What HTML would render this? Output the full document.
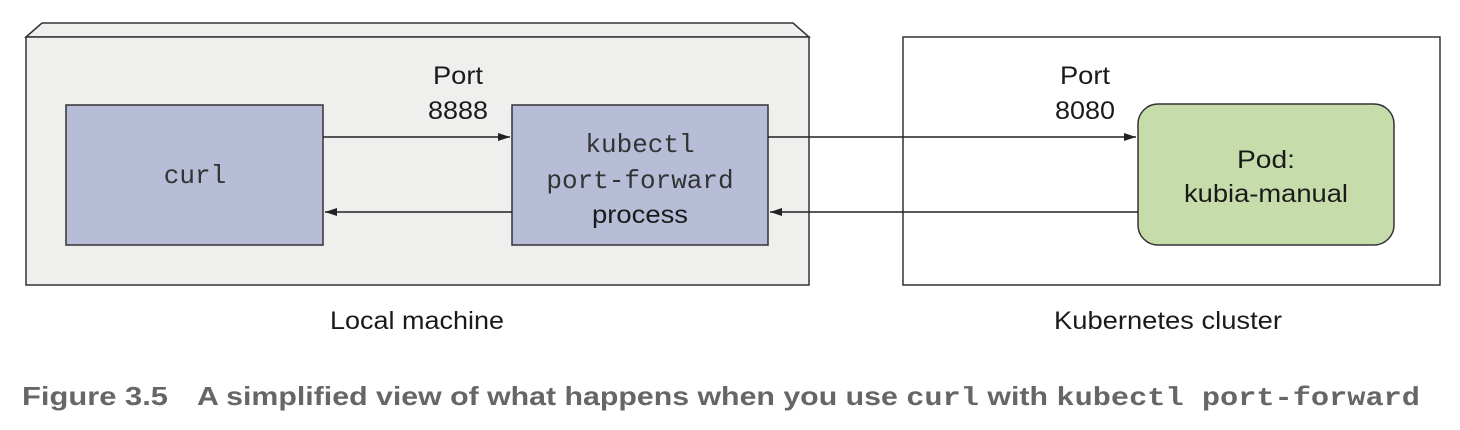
<!DOCTYPE html>
<html><head><meta charset="utf-8"><style>
html,body{margin:0;padding:0;background:#fff;}
svg{display:block}
</style></head><body>
<svg width="1460" height="430" viewBox="0 0 1460 430" xmlns="http://www.w3.org/2000/svg">
<defs>
<marker id="a" markerWidth="12" markerHeight="8" refX="12" refY="4" orient="auto" markerUnits="userSpaceOnUse">
<path d="M0,0 L12,4 L0,8 Z" fill="#222"/></marker>
</defs>
<polygon points="26,37 42,23 793,23 809,37" fill="#efefee" stroke="#333" stroke-width="1.5"/>
<rect x="26" y="37" width="783" height="248" fill="#efefee" stroke="#333" stroke-width="1.5"/>
<rect x="903" y="37" width="537" height="248" fill="#fff" stroke="#333" stroke-width="1.5"/>
<rect x="66" y="105" width="257" height="140" fill="#b7bcd7" stroke="#333" stroke-width="1.5"/>
<rect x="512" y="105" width="256" height="140" fill="#b7bcd7" stroke="#333" stroke-width="1.5"/>
<rect x="1138" y="104" width="256" height="141" rx="20" fill="#c6ddab" stroke="#333" stroke-width="1.5"/>
<line x1="323" y1="137" x2="510" y2="137" stroke="#222" stroke-width="1.5" marker-end="url(#a)"/>
<line x1="512" y1="212" x2="325" y2="212" stroke="#222" stroke-width="1.5" marker-end="url(#a)"/>
<line x1="768" y1="137" x2="1136" y2="137" stroke="#222" stroke-width="1.5" marker-end="url(#a)"/>
<line x1="1138" y1="212" x2="770" y2="212" stroke="#222" stroke-width="1.5" marker-end="url(#a)"/>
<g font-family="Liberation Sans, sans-serif" font-size="25" fill="#1a1a1a" text-anchor="middle">
<text x="458" y="84" textLength="50" lengthAdjust="spacingAndGlyphs">Port</text>
<text x="458" y="119" textLength="60" lengthAdjust="spacingAndGlyphs">8888</text>
<text x="1085" y="84" textLength="50" lengthAdjust="spacingAndGlyphs">Port</text>
<text x="1085" y="119" textLength="60" lengthAdjust="spacingAndGlyphs">8080</text>
<text x="1266" y="168" textLength="58" lengthAdjust="spacingAndGlyphs">Pod:</text>
<text x="1266" y="202" textLength="164" lengthAdjust="spacingAndGlyphs">kubia-manual</text>
<text x="640" y="223" textLength="96" lengthAdjust="spacingAndGlyphs">process</text>
<text x="417" y="329" textLength="174" lengthAdjust="spacingAndGlyphs">Local machine</text>
<text x="1168" y="329" textLength="228" lengthAdjust="spacingAndGlyphs">Kubernetes cluster</text>
</g>
<g font-family="Liberation Mono, monospace" font-size="26" fill="#333" text-anchor="middle">
<text x="195" y="183">curl</text>
<text x="640" y="152">kubectl</text>
<text x="640" y="188">port-forward</text>
</g>
<g font-family="Liberation Sans Narrow, Liberation Sans, sans-serif" font-weight="bold" font-size="26" fill="#666">
<text x="22" y="405" textLength="146" lengthAdjust="spacingAndGlyphs">Figure 3.5</text>
<text x="197" y="405" textLength="1223" lengthAdjust="spacingAndGlyphs">A simplified view of what happens when you use <tspan font-family="Liberation Mono, monospace">curl</tspan> with <tspan font-family="Liberation Mono, monospace">kubectl port-forward</tspan></text>
</g>
</svg>
</body></html>
